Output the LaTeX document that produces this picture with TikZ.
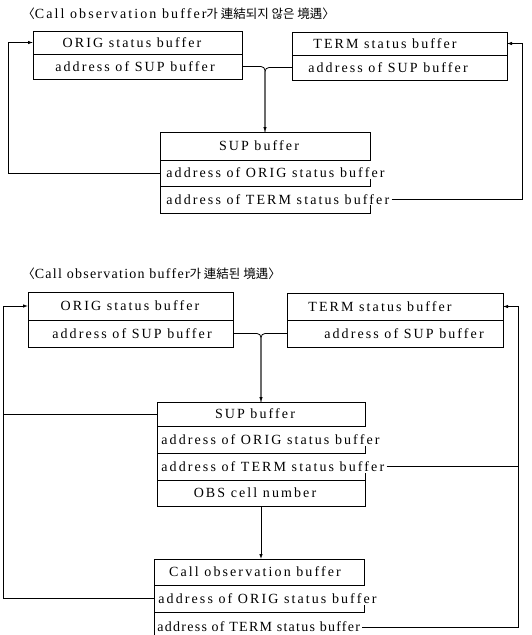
\documentclass[tikz,border=0pt]{standalone}
\usepackage{fontspec}
\setmainfont{Liberation Serif}
\newfontfamily\spaced[LetterSpace=15]{Liberation Serif}
\newfontfamily\spacedn[LetterSpace=9]{Liberation Serif}
\newfontfamily\kr{Noto Sans CJK KR}
\usetikzlibrary{arrows.meta}
\begin{document}
\begin{tikzpicture}[x=1pt,y=-1pt,
  line width=0.8pt,
  cell/.style={draw, inner sep=0pt, outer sep=0pt},
  bare/.style={inner sep=0pt, outer sep=0pt},
  txt/.style={inner sep=0pt, font=\fontsize{14}{16}\spaced},
  ttl/.style={inner sep=0pt, anchor=west},
  arr/.style={-{Latex[length=5pt,width=3.5pt]}}]
\useasboundingbox (0,0) rectangle (531,635);

% ---------------- Section 1 ----------------
\node[ttl] (title1) at (22,14) {{\kr\fontsize{12.5}{14}\selectfont 〈}{\fontsize{14}{16}\spaced Call observation buffer}{\kr\fontsize{12.5}{14}\selectfont 가 連結되지 않은 境遇〉}};

\node[cell, minimum width=209pt, minimum height=23pt] (o1a) at (137.5,42.5) {};
\node[cell, minimum width=209pt, minimum height=25pt] (o1b) at (137.5,66.5) {};
\node[txt] (o1at) at (132,42.5) {ORIG status buffer};
\node[txt] (o1bt) at (135,66.5) {address of SUP buffer};

\node[cell, minimum width=215pt, minimum height=23pt] (r1a) at (399.5,43.5) {};
\node[cell, minimum width=215pt, minimum height=25pt] (r1b) at (399.5,67.5) {};
\node[txt] (r1at) at (385,43.5) {TERM status buffer};
\node[txt] (r1bt) at (388,67.5) {address of SUP buffer};

\node[bare, minimum width=210pt, minimum height=28pt] (s1h) at (265,146) {};
\node[bare, minimum width=210pt, minimum height=26pt] (s1a) at (265,173) {};
\node[bare, minimum width=210pt, minimum height=27pt] (s1b) at (265,199.5) {};
\draw (s1h.north west) rectangle (s1h.south east);
\draw (s1a.north west) |- (s1a.south east) -- ++(0,-7);
\draw (s1b.north west) |- (s1b.south east) -- ++(0,-8);
\node[txt] (s1ht) at (259,146) {SUP buffer};
\node[txt, anchor=west] (s1at) at (166,173) {address of ORIG status buffer};
\node[txt, anchor=west] (s1bt) at (166,199.5) {address of TERM status buffer};

\coordinate (L1) at (8,0);
\coordinate (R1) at (522,0);
\draw[arr] (s1a.west) -- (s1a.west -| L1) |- (o1a.west);
\draw[arr] ([xshift=2pt]s1bt.east) -- (s1bt.east -| R1) |- (r1a.east);
\draw[arr, rounded corners=4pt] (o1b.east) -| (s1h.north);
\draw[rounded corners=4pt] (r1b.west) -| (s1h.north);

% ---------------- Section 2 ----------------
\node[ttl] (title2) at (22,274) {{\kr\fontsize{12.5}{14}\selectfont 〈}{\fontsize{14}{16}\spacedn Call observation buffer}{\kr\fontsize{12.5}{14}\selectfont 가 連結된 境遇〉}};

\node[cell, minimum width=205pt, minimum height=28pt] (o2a) at (130.5,306) {};
\node[cell, minimum width=205pt, minimum height=27pt] (o2b) at (130.5,333.5) {};
\node[txt] (o2at) at (130,306) {ORIG status buffer};
\node[txt] (o2bt) at (132,333.5) {address of SUP buffer};

\node[cell, minimum width=216pt, minimum height=27pt] (r2a) at (395,306.5) {};
\node[cell, minimum width=216pt, minimum height=27pt] (r2b) at (395,333.5) {};
\node[txt] (r2at) at (380,306.5) {TERM status buffer};
\node[txt] (r2bt) at (404,333.5) {address of SUP buffer};

\node[bare, minimum width=208pt, minimum height=24pt] (s2h) at (261,414) {};
\node[bare, minimum width=208pt, minimum height=27pt] (s2a) at (261,439.5) {};
\node[bare, minimum width=208pt, minimum height=27pt] (s2b) at (261,466.5) {};
\node[bare, minimum width=208pt, minimum height=26pt] (s2c) at (261,493) {};
\draw (s2h.north west) rectangle (s2h.south east);
\draw (s2a.north west) |- (s2a.south east) -- ++(0,-7);
\draw (s2b.north west) |- (s2b.south east) -- ++(0,-7);
\draw (s2c.north west) rectangle (s2c.south east);
\node[txt] (s2ht) at (255,414) {SUP buffer};
\node[txt, anchor=west] (s2at) at (161,439.5) {address of ORIG status buffer};
\node[txt, anchor=west] (s2bt) at (161,466.5) {address of TERM status buffer};
\node[txt] (s2ct) at (255,493) {OBS cell number};

\node[bare, minimum width=210pt, minimum height=26pt] (c2h) at (259,572) {};
\node[bare, minimum width=210pt, minimum height=27pt] (c2a) at (259,598.5) {};
\node[bare, minimum width=210pt, minimum height=28pt] (c2b) at (259,626) {};
\draw (c2h.north west) rectangle (c2h.south east);
\draw (c2a.north west) |- (c2a.south east) -- ++(0,-7);
\draw (c2b.north west) -- (c2b.south west);
\node[txt] (c2ht) at (255,572) {Call observation buffer};
\node[txt, anchor=west] (c2at) at (158,598.5) {address of ORIG status buffer};
\node[txt, anchor=west, font=\fontsize{14}{16}\spacedn] (c2bt) at (157,627) {address of TERM status buffer};

\coordinate (L2) at (3,0);
\coordinate (R2) at (518,0);
\draw (s2h.west) -- (s2h.west -| L2);
\draw[arr] (c2a.west) -- (c2a.west -| L2) |- (o2a.west);
\draw ([xshift=2pt]s2bt.east) -- (s2bt.east -| R2);
\draw[arr] ([xshift=2pt]c2bt.east) -- (c2bt.east -| R2) |- (r2a.east);
\draw[arr, rounded corners=4pt] (o2b.east) -| (s2h.north);
\draw[rounded corners=4pt] (r2b.west) -| (s2h.north);
\draw[arr] (s2c.south) -- (s2c.south |- c2h.north);
\end{tikzpicture}
\end{document}
